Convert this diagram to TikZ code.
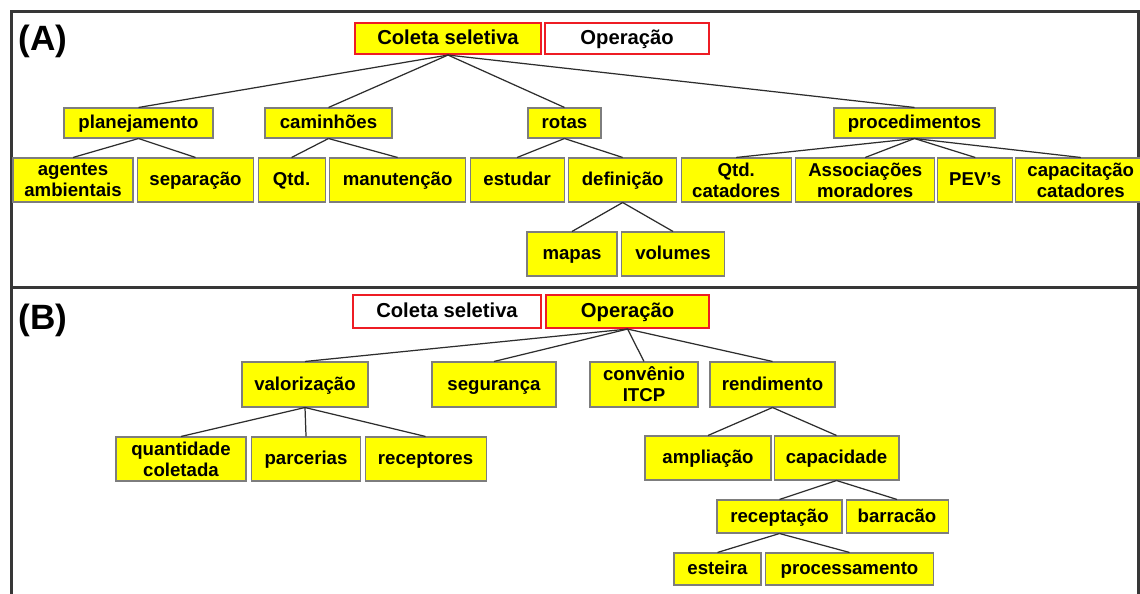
\documentclass[tikz,border=0pt]{standalone}
\usepackage{fontspec}
\setmainfont{Liberation Sans}
\usetikzlibrary{positioning}
\definecolor{boxyellow}{RGB}{255,255,0}
\definecolor{panelgray}{RGB}{55,55,55}
\definecolor{edgegray}{RGB}{125,125,125}
\definecolor{linkgray}{RGB}{45,45,45}
\definecolor{topred}{RGB}{238,28,36}

\begin{document}
\begin{tikzpicture}[x=0.02cm, y=-0.02cm, node distance = 0.07cm,
  box/.style={draw=edgegray, fill=boxyellow, line width=0.6pt, inner sep=0pt,
    align=center, text height=0.8em, text depth=0.12em,
    font=\bfseries\fontsize{10.6}{11.8}\selectfont},
  twoline/.style={text height=, text depth=},
  topbox/.style={draw=topred, line width=1.2pt, inner sep=0pt, minimum height=0.62cm,
    text height=0.82em, text depth=0.1em,
    font=\bfseries\fontsize{11.5}{13}\selectfont},
  panellabel/.style={font=\bfseries\fontsize{20}{22}\selectfont},
  panel/.style={draw=panelgray, line width=1.9pt},
  link/.style={draw=linkgray, line width=0.7pt}]
\useasboundingbox (0,0) rectangle (1140,594);
\fill[white] (0,0) rectangle (1140,594);

% panels
\draw[panel] (11.5,11.5) rectangle (1138.5,287.5);
\draw[panel] (11.5,600) -- (11.5,287.5) -- (1138.5,287.5) -- (1138.5,600);
\node[panellabel] (tagA) at (43,41) {(A)};
\node[panellabel] (tagB) at (43,320) {(B)};

% (A) Coleta seletiva
\node [topbox, fill=boxyellow, minimum width=3.72cm] (coletaA) at (448,38.5) {Coleta seletiva};
\node [topbox, fill=white, minimum width=3.28cm] (operA) [right = 0.04cm of coletaA] {Operação};

\node [box, minimum width=2.98cm, minimum height=0.6cm] (plan) at (138.5,123) {planejamento};
\node [box, minimum width=2.54cm, minimum height=0.6cm] (caminhoes) at (328.5,123) {caminhões};
\node [box, minimum width=1.46cm, minimum height=0.6cm] (rotas) at (564.5,123) {rotas};
\node [box, minimum width=3.22cm, minimum height=0.6cm] (proced) at (914.5,123) {procedimentos};

\node [box, twoline, minimum width=2.40cm, minimum height=0.88cm] (agentes) at (73,180) {agentes\\ambientais};
\node [box, minimum width=2.32cm, minimum height=0.88cm] (separacao) [right = of agentes] {separação};
\node [box, minimum width=1.34cm, minimum height=0.88cm] (qtd) [right = of separacao] {Qtd.};
\node [box, minimum width=2.72cm, minimum height=0.88cm] (manut) [right = of qtd] {manutenção};
\node [box, minimum width=1.88cm, minimum height=0.88cm] (estudar) [right = of manut] {estudar};
\node [box, minimum width=2.16cm, minimum height=0.88cm] (definicao) [right = of estudar] {definição};
\node [box, twoline, minimum width=2.20cm, minimum height=0.88cm] (qtdcat) [right = of definicao] {Qtd.\\catadores};
\node [box, twoline, minimum width=2.78cm, minimum height=0.88cm] (assoc) [right = of qtdcat] {Associações\\moradores};
\node [box, minimum width=1.50cm, minimum height=0.88cm] (pevs) [right = 0.04cm of assoc] {PEV's};
\node [box, twoline, minimum width=2.60cm, minimum height=0.88cm] (capac) [right = 0.04cm of pevs] {capacitação\\catadores};

\node [box, minimum width=1.80cm, minimum height=0.88cm] (mapas) at (572,254) {mapas};
\node [box, minimum width=2.06cm, minimum height=0.88cm] (volumes) [right = of mapas] {volumes};

\path[link]
(coletaA.south) edge (plan.north)
                edge (caminhoes.north)
                edge (rotas.north)
                edge (proced.north)
(plan.south) edge (agentes.north)
             edge (separacao.north)
(caminhoes.south) edge (qtd.north)
                  edge (manut.north)
(rotas.south) edge (estudar.north)
              edge (definicao.north)
(proced.south) edge (qtdcat.north)
               edge (assoc.north)
               edge (pevs.north)
               edge (capac.north)
(definicao.south) edge (mapas.north)
                  edge (volumes.north);

% (B) Operacao
\node [topbox, fill=white, minimum width=3.76cm, minimum height=0.66cm] (coletaB) at (447,311.5) {Coleta seletiva};
\node [topbox, fill=boxyellow, minimum width=3.26cm, minimum height=0.66cm] (operB) [right = 0.06cm of coletaB] {Operação};

\node [box, minimum width=2.52cm, minimum height=0.9cm] (valor) at (305,384.5) {valorização};
\node [box, minimum width=2.48cm, minimum height=0.9cm] (seguranca) at (494,384.5) {segurança};
\node [box, twoline, minimum width=2.16cm, minimum height=0.9cm] (convenio) at (644,384.5) {convênio\\ITCP};
\node [box, minimum width=2.50cm, minimum height=0.9cm] (rendim) at (772.5,384.5) {rendimento};

\node [box, twoline, minimum width=2.60cm, minimum height=0.88cm] (quantidade) at (181,459) {quantidade\\coletada};
\node [box, minimum width=2.18cm, minimum height=0.88cm] (parcerias) [right = 0.09cm of quantidade] {parcerias};
\node [box, minimum width=2.42cm, minimum height=0.88cm] (receptores) [right = of parcerias] {receptores};

\node [box, minimum width=2.52cm, minimum height=0.88cm] (ampliacao) at (708,458) {ampliação};
\node [box, minimum width=2.50cm, minimum height=0.88cm] (capacidade) [right = 0.04cm of ampliacao] {capacidade};

\node [box, minimum width=2.50cm, minimum height=0.66cm] (receptacao) at (779.5,516.5) {receptação};
\node [box, minimum width=2.04cm, minimum height=0.66cm] (barracao) [right = 0.06cm of receptacao] {barracão};

\node [box, minimum width=1.74cm, minimum height=0.64cm] (esteira) at (717.5,569) {esteira};
\node [box, minimum width=3.36cm, minimum height=0.64cm] (process) [right = of esteira] {processamento};

\path[link]
(operB.south) edge (valor.north)
              edge (seguranca.north)
              edge (convenio.north)
              edge (rendim.north)
(valor.south) edge (quantidade.north)
              edge (parcerias.north)
              edge (receptores.north)
(rendim.south) edge (ampliacao.north)
               edge (capacidade.north)
(capacidade.south) edge (receptacao.north)
                   edge (barracao.north)
(receptacao.south) edge (esteira.north)
                   edge (process.north);
\end{tikzpicture}
\end{document}
